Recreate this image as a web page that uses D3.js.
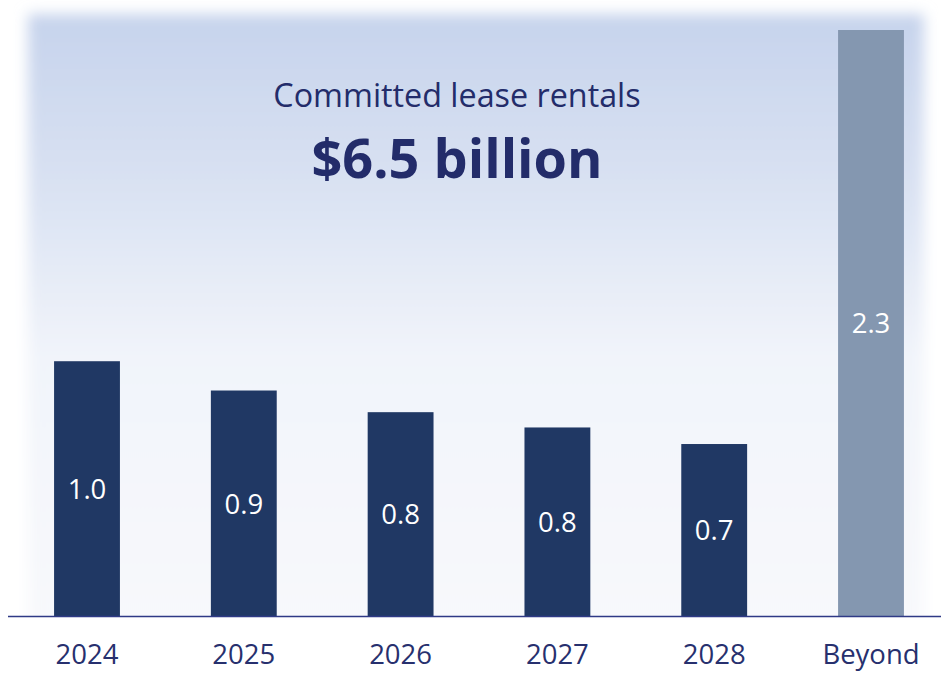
<!DOCTYPE html>
<html>
<head>
<meta charset="utf-8">
<script src="https://cdn.jsdelivr.net/npm/d3@7"></script>
<style>
  html, body { margin: 0; padding: 0; background: #ffffff; }
  svg { display: block; }
</style>
</head>
<body>
<svg id="chart" width="941" height="675"></svg>
<script>
// ---- data ----
const categories = ["2024", "2025", "2026", "2027", "2028", "Beyond"];
const values = [1.0, 0.885, 0.80, 0.74, 0.675, 2.30];
const valueLabels = ["1.0", "0.9", "0.8", "0.8", "0.7", "2.3"];
const titleLine1 = "Committed lease rentals";
const titleLine2 = "$6.5 billion";

// ---- layout ----
const W = 941, H = 675;
const baseY = 616;
const svg = d3.select("#chart");

const defs = svg.append("defs");
const grad = defs.append("linearGradient")
  .attr("id", "bg").attr("x1", 0).attr("y1", 0).attr("x2", 0).attr("y2", 1);
grad.append("stop").attr("offset", "0%").attr("stop-color", "#c6d3ec");
grad.append("stop").attr("offset", "30%").attr("stop-color", "#dbe3f3");
grad.append("stop").attr("offset", "55%").attr("stop-color", "#f1f4fa");
grad.append("stop").attr("offset", "100%").attr("stop-color", "#f8f9fc");
const blur = defs.append("filter").attr("id", "soft")
  .attr("x", "-10%").attr("y", "-10%").attr("width", "120%").attr("height", "120%");
blur.append("feGaussianBlur").attr("stdDeviation", 7);

svg.append("rect").attr("width", W).attr("height", H).attr("fill", "#ffffff");
svg.append("rect")
  .attr("x", 28).attr("y", 14).attr("width", 896).attr("height", 620)
  .attr("fill", "url(#bg)")
  .attr("filter", "url(#soft)");
// white below axis
svg.append("rect").attr("x", 0).attr("y", baseY).attr("width", W).attr("height", H - baseY)
  .attr("fill", "#ffffff");

const x = d3.scaleBand()
  .domain(categories)
  .range([8.6, 949.4])
  .paddingInner(0.58)
  .paddingOuter(0.29);

const y = d3.scaleLinear()
  .domain([0, 2.3])
  .range([baseY, 30]);

const data = categories.map((c, i) => ({ c, v: values[i], label: valueLabels[i] }));

svg.append("g").selectAll("rect")
  .data(data)
  .join("rect")
  .attr("x", d => x(d.c))
  .attr("y", d => y(d.v))
  .attr("width", x.bandwidth())
  .attr("height", d => baseY - y(d.v))
  .attr("fill", d => d.c === "Beyond" ? "#8497b0" : "#203864");

svg.append("g").selectAll("text")
  .data(data)
  .join("text")
  .attr("x", d => x(d.c) + x.bandwidth() / 2)
  .attr("y", d => (y(d.v) + baseY) / 2 + 3)
  .attr("text-anchor", "middle")
  .attr("dominant-baseline", "middle")
  .attr("font-family", "Open Sans, sans-serif")
  .attr("font-size", 27.5)
  .attr("fill", "#ffffff")
  .text(d => d.label);

// axis
const axis = d3.axisBottom(x).tickSize(0).tickPadding(28);
const gAxis = svg.append("g").attr("transform", `translate(0,${baseY})`).call(axis);
gAxis.select(".domain").remove();
gAxis.selectAll("text")
  .attr("font-family", "Open Sans, sans-serif")
  .attr("font-size", 27.5)
  .attr("fill", "#27306e");
svg.append("line")
  .attr("x1", 8).attr("x2", W).attr("y1", baseY + 0.5).attr("y2", baseY + 0.5)
  .attr("stroke", "#2f3a86").attr("stroke-width", 1.5);

// titles
svg.append("text")
  .attr("x", 457).attr("y", 107)
  .attr("text-anchor", "middle")
  .attr("font-family", "Open Sans, sans-serif")
  .attr("font-size", 32.3)
  .attr("fill", "#232c6a")
  .text(titleLine1);
svg.append("text")
  .attr("x", 457).attr("y", 178)
  .attr("text-anchor", "middle")
  .attr("font-family", "Open Sans, sans-serif")
  .attr("font-weight", "bold")
  .attr("font-size", 54)
  .attr("fill", "#232c6a")
  .text(titleLine2);
</script>
</body>
</html>
